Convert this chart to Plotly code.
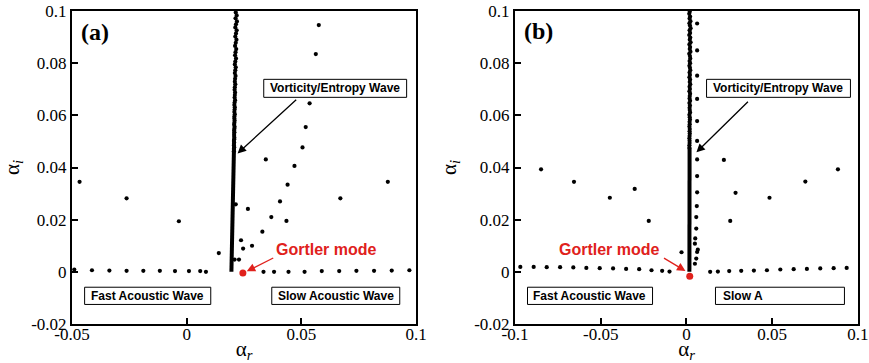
import plotly.graph_objects as go

# ---------------- Panel (a) data ----------------
A_BASE_X = [-0.0490, -0.0413, -0.0337, -0.0262, -0.0189, -0.0117, -0.0051, 0.0010, 0.0059, 0.0084,
            0.0335, 0.0381, 0.0444, 0.0514, 0.0589, 0.0665, 0.0740, 0.0817, 0.0894, 0.0971]
A_BASE_Y = [0.0009, 0.0006, 0.0005, 0.0004, 0.0004, 0.0004, 0.0003, 0.0003, 0.0003, 0.0000,
            0.0000, 0.0000, 0.0000, 0.0000, 0.0003, 0.0003, 0.0004, 0.0004, 0.0005, 0.0006]
A_SCAT_X = [-0.0467, -0.0262, -0.0034, 0.0140, 0.0228, 0.0237, 0.0246, 0.0285, 0.0267, 0.0214,
            0.0330, 0.0369, 0.0435, 0.0407, 0.0440, 0.0470, 0.0345, 0.0505, 0.0519, 0.0536,
            0.0563, 0.0576, 0.0670, 0.0877, 0.0209]
A_SCAT_Y = [0.0345, 0.0282, 0.0194, 0.0072, 0.0047, 0.0121, 0.0089, 0.0100, 0.0241, 0.0259,
            0.0154, 0.0210, 0.0195, 0.0270, 0.0334, 0.0406, 0.0431, 0.0477, 0.0555, 0.0646,
            0.0835, 0.0946, 0.0282, 0.0345, 0.0047]
A_COL_X = [0.0214, 0.0218, 0.0213, 0.0219, 0.0215, 0.0212, 0.0218, 0.0215, 0.0212, 0.0217,
           0.0214, 0.0211, 0.0216, 0.0213, 0.0211, 0.0215, 0.0212, 0.0210, 0.0214, 0.0212,
           0.0210, 0.0213, 0.0211, 0.0210, 0.0212, 0.0210, 0.0209, 0.0211, 0.0210, 0.0209,
           0.0211, 0.0209, 0.0208, 0.0210, 0.0209, 0.0208, 0.0210, 0.0208, 0.0208, 0.0209,
           0.0208, 0.0207, 0.0209, 0.0208, 0.0207, 0.0208, 0.0207, 0.0207, 0.0208, 0.0207,
           0.0206, 0.0207, 0.0206, 0.0206, 0.0207, 0.0206, 0.0206, 0.0206]
A_COL_Y = [0.0994, 0.0983, 0.0972, 0.0960, 0.0949, 0.0937, 0.0926, 0.0914, 0.0902, 0.0890,
           0.0878, 0.0866, 0.0854, 0.0842, 0.0830, 0.0818, 0.0806, 0.0795, 0.0784, 0.0773,
           0.0762, 0.0751, 0.0740, 0.0729, 0.0719, 0.0708, 0.0698, 0.0688, 0.0678, 0.0668,
           0.0658, 0.0649, 0.0640, 0.0631, 0.0622, 0.0613, 0.0604, 0.0596, 0.0588, 0.0580,
           0.0572, 0.0564, 0.0556, 0.0549, 0.0542, 0.0535, 0.0528, 0.0521, 0.0514, 0.0508,
           0.0502, 0.0496, 0.0490, 0.0484, 0.0478, 0.0472, 0.0467, 0.0462]
A_BAR_X = [0.0195, 0.0202, 0.0206]
A_BAR_Y = [0.0000, 0.0250, 0.0462]
A_GORTLER_X = [0.0245]
A_GORTLER_Y = [-0.0004]

# ---------------- Panel (b) data ----------------
B_BASE_X = [-0.0969, -0.0891, -0.0815, -0.0737, -0.0660, -0.0584, -0.0506, -0.0428, -0.0352, -0.0276,
            -0.0204, -0.0142, -0.0099, 0.0138, 0.0183, 0.0249, 0.0319, 0.0393, 0.0469, 0.0547,
            0.0625, 0.0702, 0.0780, 0.0858, 0.0934]
B_BASE_Y = [0.0019, 0.0019, 0.0018, 0.0018, 0.0017, 0.0015, 0.0014, 0.0013, 0.0011, 0.0010,
            0.0006, 0.0004, 0.0001, 0.0000, 0.0001, 0.0003, 0.0004, 0.0005, 0.0006, 0.0009,
            0.0010, 0.0011, 0.0013, 0.0014, 0.0015]
B_SCAT_X = [-0.0848, -0.0656, -0.0447, -0.0302, -0.0220, -0.0029, 0.0218, 0.0286, 0.0255, 0.0484,
            0.0693, 0.0883]
B_SCAT_Y = [0.0393, 0.0345, 0.0284, 0.0318, 0.0195, 0.0075, 0.0429, 0.0303, 0.0195, 0.0284,
            0.0346, 0.0393]
B_SIDE_X = [0.0062, 0.0062, 0.0062, 0.0062, 0.0062, 0.0062, 0.0062, 0.0062, 0.0062, 0.0060,
            0.0057, 0.0057, 0.0051, 0.0049, 0.0066, 0.0062, 0.0057, 0.0049]
B_SIDE_Y = [0.0952, 0.0849, 0.0752, 0.0663, 0.0578, 0.0502, 0.0431, 0.0367, 0.0305, 0.0252,
            0.0210, 0.0166, 0.0128, 0.0108, 0.0085, 0.0076, 0.0051, 0.0031]
B_COL_X = [0.0019, 0.0016, 0.0021, 0.0018, 0.0023, 0.0017, 0.0020, 0.0024, 0.0018, 0.0021,
           0.0016, 0.0022, 0.0019, 0.0024, 0.0017, 0.0021, 0.0019, 0.0023, 0.0016, 0.0020,
           0.0022, 0.0018, 0.0021, 0.0017, 0.0020, 0.0022, 0.0018, 0.0020, 0.0017, 0.0021,
           0.0019, 0.0022, 0.0018, 0.0020, 0.0017, 0.0021, 0.0019, 0.0018, 0.0021, 0.0017,
           0.0020, 0.0018, 0.0019, 0.0021, 0.0017, 0.0019, 0.0020, 0.0018, 0.0019, 0.0017,
           0.0019, 0.0018, 0.0019, 0.0018, 0.0017, 0.0018, 0.0018, 0.0017, 0.0017]
B_COL_Y = [0.0997, 0.0989, 0.0979, 0.0971, 0.0961, 0.0953, 0.0944, 0.0934, 0.0926, 0.0916,
           0.0908, 0.0898, 0.0890, 0.0880, 0.0872, 0.0862, 0.0854, 0.0844, 0.0836, 0.0827,
           0.0818, 0.0808, 0.0800, 0.0790, 0.0782, 0.0773, 0.0764, 0.0755, 0.0746, 0.0737,
           0.0728, 0.0719, 0.0710, 0.0701, 0.0692, 0.0683, 0.0674, 0.0665, 0.0656, 0.0647,
           0.0638, 0.0629, 0.0620, 0.0611, 0.0602, 0.0593, 0.0584, 0.0575, 0.0566, 0.0557,
           0.0548, 0.0539, 0.0530, 0.0521, 0.0512, 0.0503, 0.0494, 0.0485, 0.0476]
B_BAR_X = [0.0017, 0.0017, 0.0018]
B_BAR_Y = [0.0000, 0.0250, 0.0476]
B_GORTLER_X = [0.0019]
B_GORTLER_Y = [-0.0017]

A_XTICKS = [-0.05, 0, 0.05, 0.1]
A_XTICKTEXT = ["-0.05", "0", "0.05", "0.1"]
B_XTICKS = [-0.1, -0.05, 0, 0.05, 0.1]
B_XTICKTEXT = ["-0.1", "-0.05", "0", "0.05", "0.1"]
YTICKS = [-0.02, 0, 0.02, 0.04, 0.06, 0.08, 0.1]
YTICKTEXT = ["-0.02", "0", "0.02", "0.04", "0.06", "0.08", "0.1"]

RED = "#e0211c"
SERIF = "Liberation Serif, Times New Roman, serif"
SANS = "Liberation Sans, Arial, sans-serif"
DOT = 4.2

fig = go.Figure()


def add_panel(xa, ya, bar_x, bar_y, col_x, col_y, base_x, base_y, scat_x, scat_y, gx, gy, extra=None):
    fig.add_trace(go.Scatter(x=bar_x, y=bar_y, mode="lines", line=dict(color="black", width=4),
                             xaxis=xa, yaxis=ya, hoverinfo="skip"))
    for xs, ys in [(col_x, col_y), (base_x, base_y), (scat_x, scat_y)] + ([extra] if extra else []):
        fig.add_trace(go.Scatter(x=xs, y=ys, mode="markers",
                                 marker=dict(color="black", size=DOT, line=dict(width=0)),
                                 xaxis=xa, yaxis=ya))
    fig.add_trace(go.Scatter(x=gx, y=gy, mode="markers",
                             marker=dict(color=RED, size=7, line=dict(width=0)),
                             xaxis=xa, yaxis=ya))


add_panel("x", "y", A_BAR_X, A_BAR_Y, A_COL_X, A_COL_Y, A_BASE_X, A_BASE_Y,
          A_SCAT_X, A_SCAT_Y, A_GORTLER_X, A_GORTLER_Y)
add_panel("x2", "y2", B_BAR_X, B_BAR_Y, B_COL_X, B_COL_Y, B_BASE_X, B_BASE_Y,
          B_SCAT_X, B_SCAT_Y, B_GORTLER_X, B_GORTLER_Y, extra=(B_SIDE_X, B_SIDE_Y))

axis_common = dict(showgrid=False, zeroline=False, showline=True, linecolor="black", linewidth=2,
                   mirror=True, ticks="inside", ticklen=6, tickwidth=1.5, tickcolor="black",
                   automargin=False,
                   tickfont=dict(family=SERIF, size=17, color="black"))
title_font = dict(family=SERIF, size=21, color="black")

fig.update_layout(
    width=869, height=363,
    margin=dict(l=72, r=11, t=11, b=39),
    paper_bgcolor="white", plot_bgcolor="white",
    showlegend=False,
    xaxis=dict(domain=[0, 0.4377], range=[-0.05, 0.1], tickvals=A_XTICKS, ticktext=A_XTICKTEXT,
               ticklabelstandoff=-6,
               title=dict(text="α<sub><i>r</i></sub>", font=title_font, standoff=2), **axis_common),
    yaxis=dict(domain=[0, 1], range=[-0.02, 0.1], tickvals=YTICKS, ticktext=YTICKTEXT,
               title=dict(text="α<sub><i>i</i></sub>", font=title_font, standoff=10), **axis_common),
    xaxis2=dict(domain=[0.5636, 1], range=[-0.1, 0.1], tickvals=B_XTICKS, ticktext=B_XTICKTEXT,
                anchor="y2", ticklabelstandoff=-6,
                title=dict(text="α<sub><i>r</i></sub>", font=title_font, standoff=2), **axis_common),
    yaxis2=dict(domain=[0, 1], range=[-0.02, 0.1], tickvals=YTICKS, ticktext=YTICKTEXT,
                anchor="x2",
                title=dict(text="α<sub><i>i</i></sub>", font=title_font, standoff=12), **axis_common),
)

# label boxes (data coords)
boxes = [
    ("x", "y", 0.0336, 0.0959, 0.0669, 0.0738),
    ("x", "y", -0.0445, 0.0105, -0.0125, -0.0059),
    ("x", "y", 0.0371, 0.0929, -0.0125, -0.0059),
    ("x2", "y2", 0.0117, 0.0956, 0.0669, 0.0738),
    ("x2", "y2", -0.0927, -0.0198, -0.0125, -0.0059),
    ("x2", "y2", 0.0169, 0.0921, -0.0125, -0.0059),
]
for xr, yr, x0, x1, y0, y1 in boxes:
    fig.add_shape(type="rect", xref=xr, yref=yr, x0=x0, x1=x1, y0=y0, y1=y1,
                  line=dict(color="black", width=1), fillcolor="white", layer="above")

lab = dict(family=SANS, size=12, color="black")
texts = [
    ("x", "y", 0.0648, 0.0704, "<b>Vorticity/Entropy Wave</b>", "center"),
    ("x", "y", -0.0170, -0.0092, "<b>Fast Acoustic Wave</b>", "center"),
    ("x", "y", 0.0650, -0.0092, "<b>Slow Acoustic Wave</b>", "center"),
    ("x2", "y2", 0.0536, 0.0704, "<b>Vorticity/Entropy Wave</b>", "center"),
    ("x2", "y2", -0.0563, -0.0092, "<b>Fast Acoustic Wave</b>", "center"),
    ("x2", "y2", 0.0204, -0.0092, "<b>Slow A</b>", "left"),
]
for xr, yr, x, y, t, anc in texts:
    fig.add_annotation(xref=xr, yref=yr, x=x, y=y, text=t, showarrow=False, font=lab,
                       xanchor=anc, yanchor="middle")

# panel letters
fig.add_annotation(xref="x", yref="y", x=-0.0401, y=0.0918, text="<b>(a)</b>", showarrow=False,
                   font=dict(family=SERIF, size=24, color="black"))
fig.add_annotation(xref="x2", yref="y2", x=-0.0865, y=0.0925, text="<b>(b)</b>", showarrow=False,
                   font=dict(family=SERIF, size=24, color="black"))

# Gortler labels
gfont = dict(family=SANS, size=16, color=RED)
fig.add_annotation(xref="x", yref="y", x=0.0611, y=0.0086, text="<b>Gortler mode</b>",
                   showarrow=False, font=gfont)
fig.add_annotation(xref="x2", yref="y2", x=-0.0449, y=0.0086, text="<b>Gortler mode</b>",
                   showarrow=False, font=gfont)

# arrows
arrows = [
    ("x", "y", 0.0222, 0.0454, 0.0484, 0.0665, "black"),
    ("x2", "y2", 0.0058, 0.0458, 0.0367, 0.0658, "black"),
    ("x", "y", 0.0262, 0.0002, 0.0384, 0.0056, RED),
    ("x2", "y2", -0.0006, 0.0003, -0.0140, 0.0056, RED),
]
for xr, yr, hx, hy, tx, ty, c in arrows:
    fig.add_annotation(xref=xr, yref=yr, axref=xr, ayref=yr, x=hx, y=hy, ax=tx, ay=ty, text="",
                       showarrow=True, arrowhead=2, arrowsize=1.3, arrowwidth=1.3, arrowcolor=c)

fig.write_html("out.html")
